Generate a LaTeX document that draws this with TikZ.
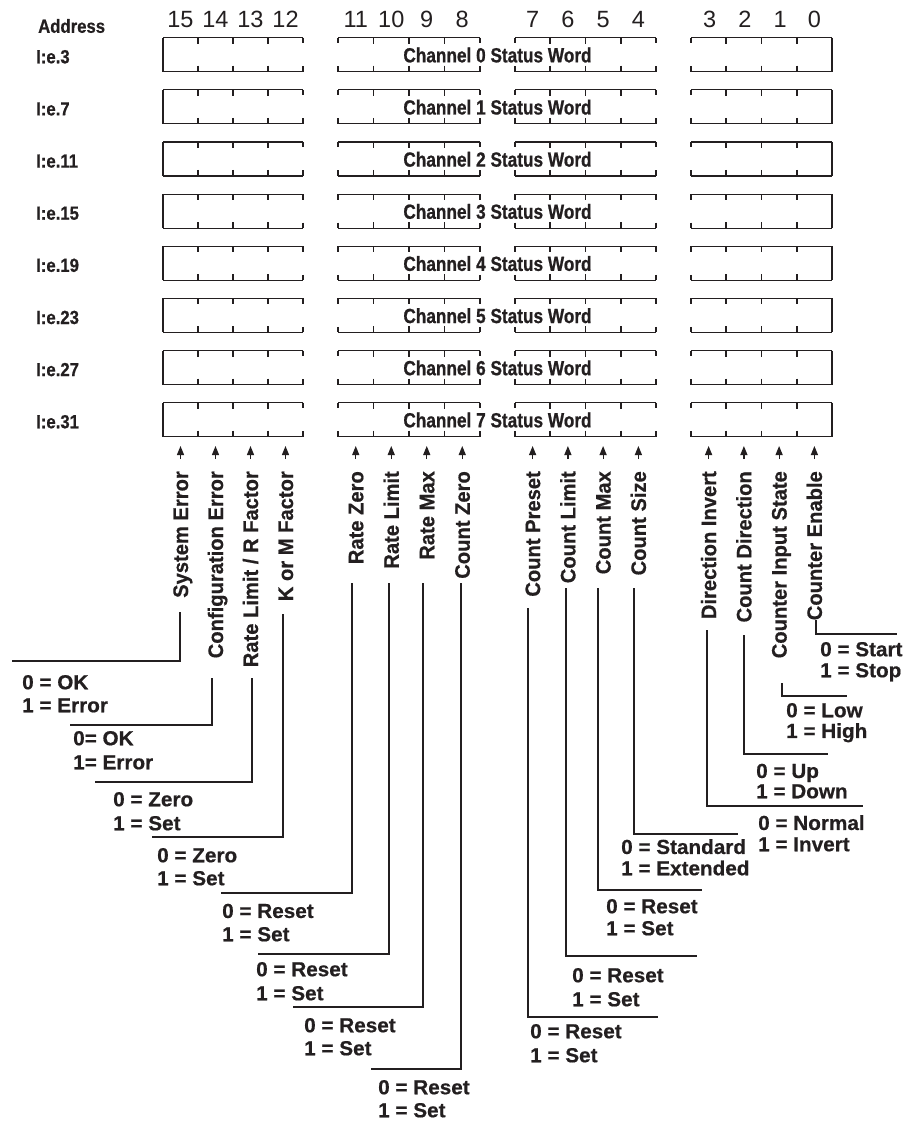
\documentclass[tikz,border=0pt]{standalone}
\usepackage{fontspec}
\setmainfont{Liberation Sans}
\newfontfamily\chfont[FakeStretch=0.84,FakeBold=0.8]{Liberation Sans}
\newfontfamily\adfont[FakeStretch=0.88,FakeBold=0.6]{Liberation Sans}
\newfontfamily\lbfont[FakeStretch=0.96,FakeBold=0.6]{Liberation Sans}
\newfontfamily\vlfont[FakeStretch=1.02,FakeBold=0.6]{Liberation Sans}
\usetikzlibrary{arrows.meta}
\definecolor{ink}{HTML}{231F20}
\tikzset{
  ln/.style={line width=1.2pt, draw=ink},
  tk/.style={line width=1.8pt, draw=ink},
  bitnum/.style={font=\fontsize{23.5}{24}\selectfont, text=ink, inner sep=0pt, text height=17pt, text depth=0pt},
  addr/.style={font=\adfont\bfseries\fontsize{19}{20}\selectfont, text=ink, anchor=west, inner sep=0pt, text height=13.6pt, text depth=0pt},
  chan/.style={font=\chfont\bfseries\fontsize{20.5}{22}\selectfont, text=ink, inner sep=0pt, text height=14.7pt, text depth=0pt},
  lbl/.style={font=\lbfont\bfseries\fontsize{21}{22}\selectfont, text=ink, rotate=90, anchor=east, inner sep=0pt, text height=15pt, text depth=0pt},
  val/.style={font=\vlfont\bfseries\fontsize{20.3}{22}\selectfont, text=ink, anchor=west, inner sep=0pt, text height=14.5pt, text depth=0pt},
  arr/.style={ln, -{Triangle[length=9pt,width=7pt]}}
}
\begin{document}
\begin{tikzpicture}[x=1pt,y=-1pt]
\useasboundingbox (0,0) rectangle (920,1121);

% header
\node[addr] (addrh) at (38,26) {Address};
\foreach \n/\x in {15/180.5,14/215.5,13/250.5,12/285.5,11/355.75,10/391.25,9/426.75,8/462.25,7/532.6,6/567.9,5/603.1,4/638.4,3/709.6,2/744.9,1/780.1,0/814.4}
  \node[bitnum] (b\n) at (\x,18.8) {\n};

% rows
\foreach \r/\a in {0/3,1/7,2/11,3/15,4/19,5/23,6/27,7/31} {
  \pgfmathsetmacro\yt{37.7+52.14*\r}
  \pgfmathsetmacro\yb{\yt+34}
  \pgfmathsetmacro\yc{\yt+17.3}
  \node[addr] (row\r) at (36,\yc+1.5) {I:e.\a};
  \node[chan] (ch\r) at (497.5,\yc) {Channel \r\ Status Word};
  \foreach \x/\w in {163/35,338/35.5,515/35.25,691/35.25} {
    \draw[ln] (\x,\yt) -- (\x+4*\w,\yt);
    \draw[ln] (\x,\yb) -- (\x+4*\w,\yb);
    \foreach \k in {1,2,3} {
      \draw[tk] (\x+\k*\w,\yt) -- (\x+\k*\w,\yt+6);
      \draw[tk] (\x+\k*\w,\yb-6) -- (\x+\k*\w,\yb);
    }
  }
  \foreach \x in {303,338,480,515,656,691} {
    \draw[ln] (\x,\yt) -- (\x,\yt+5.5);
    \draw[ln] (\x,\yb-5.5) -- (\x,\yb);
  }
  \draw[ln] (163,\yt) -- (163,\yb);
  \draw[ln] (832,\yt) -- (832,\yb);
}

% arrows
\foreach \x [count=\i] in {180.5,215.5,250.5,285.5,355.75,391.25,426.75,462.25,532.6,567.9,603.1,638.4,708.6,743.9,779.1,814.4} {
  \coordinate (ab\i) at (\x,459);
  \coordinate (at\i) at (\x,446);
  \draw[arr] (ab\i) -- (at\i);
}

% rotated labels
\node[lbl] (l15) at (180.5,471) {System Error};
\node[lbl] (l14) at (215.5,471) {Configuration Error};
\node[lbl] (l13) at (250.5,471) {Rate Limit / R Factor};
\node[lbl] (l12) at (285.5,471) {K or M Factor};
\node[lbl] (l11) at (355.75,471) {Rate Zero};
\node[lbl] (l10) at (391.25,471) {Rate Limit};
\node[lbl] (l9) at (426.75,471) {Rate Max};
\node[lbl] (l8) at (462.25,471) {Count Zero};
\node[lbl] (l7) at (532.6,471) {Count Preset};
\node[lbl] (l6) at (567.9,471) {Count Limit};
\node[lbl] (l5) at (603.1,471) {Count Max};
\node[lbl] (l4) at (638.4,471) {Count Size};
\node[lbl] (l3) at (708.6,471) {Direction Invert};
\node[lbl] (l2) at (743.9,471) {Count Direction};
\node[lbl] (l1) at (779.1,471) {Counter Input State};
\node[lbl] (l0) at (814.4,471) {Counter Enable};

% leader lines: start / end
\foreach \n/\x/\ys/\yc/\xe in {15/180/612/661/12, 14/212/678/725/70, 13/252/678/782/95, 12/283/614/837/152,
  11/352/583/893/221, 10/389/583/954/258, 9/423/583/1007/293, 8/461/583/1069/371,
  7/528/608/1017/658, 6/566/588/956/697, 5/598/588/890/702, 4/634/588/834/738,
  3/707/630/806/863, 2/744/635/754/828, 1/782/683/696/847, 0/816/620/634/897} {
  \coordinate (s\n) at (\x,\ys);
  \coordinate (e\n) at (\xe,\yc);
  \draw[ln] (s\n) |- (e\n);
}

% values
\node[val] (v15a) at (22,682) {0 = OK};
\node[val] (v15b) at (22,705) {1 = Error};
\node[val] (v14a) at (73,738) {0= OK};
\node[val] (v14b) at (73,762) {1= Error};
\node[val] (v13a) at (113,799) {0 = Zero};
\node[val] (v13b) at (113,823) {1 = Set};
\node[val] (v12a) at (157,855) {0 = Zero};
\node[val] (v12b) at (157,878) {1 = Set};
\node[val] (v11a) at (222,910.7) {0 = Reset};
\node[val] (v11b) at (222,934) {1 = Set};
\node[val] (v10a) at (256,969) {0 = Reset};
\node[val] (v10b) at (256,993) {1 = Set};
\node[val] (v9a) at (304,1025) {0 = Reset};
\node[val] (v9b) at (304,1048) {1 = Set};
\node[val] (v8a) at (378,1087) {0 = Reset};
\node[val] (v8b) at (378,1110) {1 = Set};
\node[val] (v7a) at (530,1031) {0 = Reset};
\node[val] (v7b) at (530,1055) {1 = Set};
\node[val] (v6a) at (572,975) {0 = Reset};
\node[val] (v6b) at (572,999) {1 = Set};
\node[val] (v5a) at (606,906) {0 = Reset};
\node[val] (v5b) at (606,928) {1 = Set};
\node[val] (v4a) at (621,846.7) {0 = Standard};
\node[val] (v4b) at (621,868) {1 = Extended};
\node[val] (v3a) at (758,822.7) {0 = Normal};
\node[val] (v3b) at (758,844) {1 = Invert};
\node[val] (v2a) at (756,770.7) {0 = Up};
\node[val] (v2b) at (756,791) {1 = Down};
\node[val] (v1a) at (786,710) {0 = Low};
\node[val] (v1b) at (786,730.7) {1 = High};
\node[val] (v0a) at (820,649) {0 = Start};
\node[val] (v0b) at (820,670) {1 = Stop};
\end{tikzpicture}
\end{document}
